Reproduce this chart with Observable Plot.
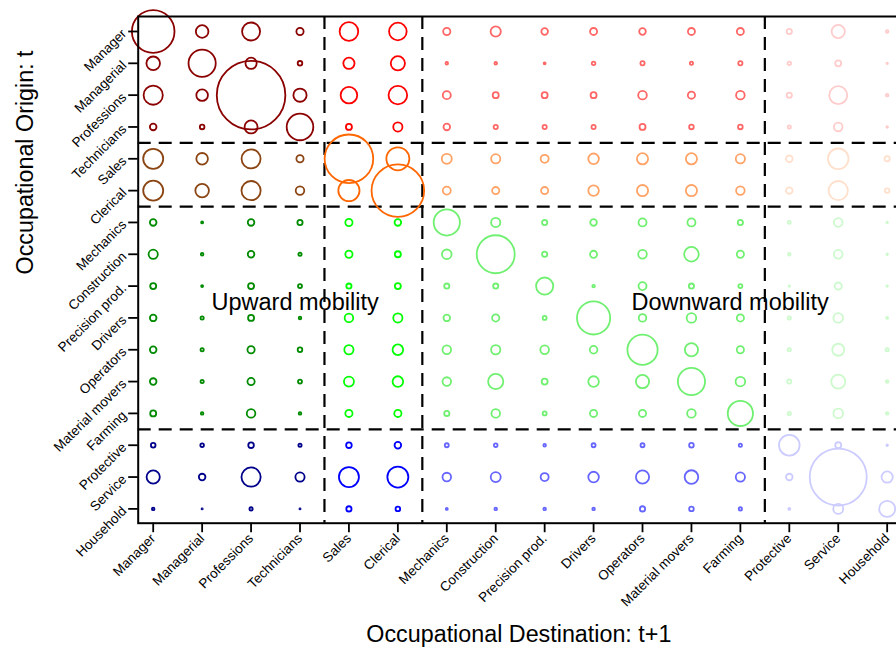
<!DOCTYPE html>
<html>
<head>
<meta charset="utf-8">
<script src="https://cdn.jsdelivr.net/npm/d3@7"></script>
<script src="https://cdn.jsdelivr.net/npm/@observablehq/plot@0.6"></script>
<style>
  html, body { margin: 0; padding: 0; background: #fff; }
  #chart { width: 896px; height: 649px; overflow: hidden; }
  #chart svg { display: block; }
</style>
</head>
<body>
<div id="chart"></div>
<script>
// Occupations (origin rows = destination columns)
const occupations = ["Manager", "Managerial", "Professions", "Technicians", "Sales", "Clerical",
  "Mechanics", "Construction", "Precision prod.", "Drivers", "Operators", "Material movers",
  "Farming", "Protective", "Service", "Household"];
// Occupational class of each occupation (0 upper white collar, 1 lower white collar, 2 manual, 3 service)
const classOf = [0, 0, 0, 0, 1, 1, 2, 2, 2, 2, 2, 2, 2, 3, 3, 3];

// Flows from each origin (row) to each destination (column), estimated
const fromManager       = [4537, 397, 810, 130, 865, 774, 130, 260, 109, 123, 109, 123, 123, 68, 436, 17];
const fromManagerial    = [462, 1850, 314, 53, 314, 504, 17, 17, 10, 32, 44, 26, 44, 32, 90, 6];
const fromProfessions   = [922, 336, 11765, 436, 689, 865, 160, 90, 90, 90, 185, 130, 185, 68, 810, 17];
const fromTechnicians   = [109, 53, 423, 1769, 90, 212, 109, 44, 44, 44, 90, 53, 53, 26, 185, 6];
const fromSales         = [1000, 336, 903, 130, 5905, 1323, 250, 212, 160, 281, 314, 314, 212, 109, 1061, 68];
const fromClerical      = [1000, 462, 922, 185, 1124, 6917, 160, 130, 130, 281, 314, 314, 185, 109, 922, 53];
const fromMechanics     = [109, 10, 109, 68, 130, 109, 1716, 212, 68, 109, 160, 160, 68, 22, 185, 6];
const fromConstruction  = [212, 17, 109, 26, 130, 90, 230, 3610, 68, 123, 185, 533, 130, 17, 185, 6];
const fromPrecision     = [90, 10, 90, 40, 68, 90, 68, 68, 740, 17, 160, 68, 40, 6, 130, 6];
const fromDrivers       = [109, 26, 90, 17, 185, 212, 109, 130, 40, 2756, 144, 230, 130, 26, 230, 10];
const fromOperators     = [109, 26, 130, 53, 212, 281, 185, 212, 185, 144, 2280, 436, 130, 26, 360, 26];
const fromMaterial      = [109, 26, 130, 40, 250, 281, 185, 578, 90, 281, 436, 1850, 230, 44, 490, 17];
const fromFarming       = [90, 17, 185, 17, 130, 130, 68, 185, 40, 130, 130, 185, 1588, 26, 230, 17];
const fromProtective    = [53, 32, 78, 26, 78, 109, 40, 32, 17, 40, 40, 53, 26, 1061, 90, 6];
const fromService       = [436, 109, 922, 212, 1000, 1103, 185, 250, 160, 281, 436, 462, 212, 109, 8123, 314];
const fromHousehold     = [17, 3, 26, 3, 68, 53, 10, 17, 17, 17, 68, 53, 26, 10, 250, 640];

const flows = [fromManager, fromManagerial, fromProfessions, fromTechnicians, fromSales, fromClerical,
  fromMechanics, fromConstruction, fromPrecision, fromDrivers, fromOperators, fromMaterial,
  fromFarming, fromProtective, fromService, fromHousehold];

// Colour by origin class (row) and destination class (column)
const palette = [
  ["#8B0000", "#FF0000", "#FF6666", "#FFCCCC"],
  ["#8B4513", "#FF6600", "#FFA366", "#FFE0CC"],
  ["#008B00", "#00FF00", "#70F070", "#CCFACC"],
  ["#00008B", "#0000FF", "#6666FF", "#CCCCFF"]
];

const notes = [
  {label: "Upward mobility", col: 2.9, row: 8.53},
  {label: "Downward mobility", col: 11.79, row: 8.53}
];

const xTitle = "Occupational Destination: t+1";
const yTitle = "Occupational Origin: t";

const cells = [];
flows.forEach((row, i) => row.forEach((v, j) => cells.push({
  origin: i, dest: j, value: v, color: palette[classOf[i]][classOf[j]]
})));
const idx = occupations.map((_, i) => i);
const boundaries = idx.filter(i => i < idx.length - 1 && classOf[i] !== classOf[i + 1]).map(i => i + 0.5);

const chart = Plot.plot({
  width: 896,
  height: 649,
  marginLeft: 137.7,
  marginRight: -10,
  marginTop: 16,
  marginBottom: 126.3,
  style: {fontFamily: "'Liberation Sans', Arial, Helvetica, sans-serif", background: "white", color: "black"},
  x: {type: "linear", domain: [-0.3066, 15.395], axis: null},
  y: {type: "linear", domain: [-0.471, 15.45], reverse: true, axis: null},
  r: {type: "sqrt", domain: [0, 11765], range: [0, 34.3]},
  color: {type: "identity"},
  marks: [
    Plot.ruleY(boundaries, {y: d => d, stroke: "black", strokeWidth: 2.2, strokeDasharray: "13,8"}),
    Plot.ruleX(boundaries, {x: d => d, stroke: "black", strokeWidth: 2.2, strokeDasharray: "13,8"}),
    Plot.dot(cells, {x: "dest", y: "origin", r: "value", stroke: "color", fill: "none", strokeWidth: 1.8}),
    Plot.frame({stroke: "black", strokeWidth: 2}),
    Plot.axisX(idx, {
      tickSize: 9.5, tickPadding: 3.5, tickRotate: -45, tickFormat: i => occupations[i],
      textAnchor: "end", lineAnchor: "middle", fontSize: 13.5, label: null, strokeWidth: 1.8
    }),
    Plot.axisY(idx, {
      tickSize: 9.5, tickPadding: 4.5, tickRotate: -45, tickFormat: i => occupations[i],
      textAnchor: "end", lineAnchor: "middle", fontSize: 13.5, label: null, strokeWidth: 1.8
    }),
    Plot.text(notes, {x: "col", y: "row", text: "label", fontSize: 23.5, lineAnchor: "middle", fill: "black"}),
    Plot.text([xTitle], {text: d => d, frameAnchor: "bottom", dx: -3.5, dy: 118.3, lineAnchor: "bottom", fontSize: 23.3, fill: "black"}),
    Plot.text([yTitle], {text: d => d, frameAnchor: "left", rotate: -90, dx: -105.7, dy: 4.6, lineAnchor: "bottom", fontSize: 23.3, fill: "black"})
  ]
});
document.getElementById("chart").appendChild(chart);
</script>
</body>
</html>
